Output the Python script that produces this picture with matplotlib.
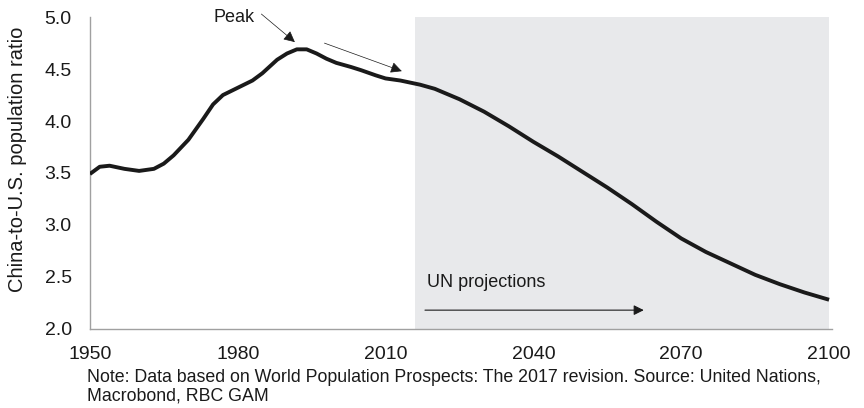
import matplotlib
matplotlib.use('Agg')
import matplotlib.pyplot as plt

plt.rcParams['font.family'] = ['Liberation Sans', 'DejaVu Sans']

# China-to-U.S. population ratio
years = [1950, 1952, 1954, 1957, 1960, 1963, 1965, 1967, 1970, 1973, 1975, 1977,
         1980, 1983, 1985, 1988, 1990, 1992, 1994, 1996, 1998, 2000, 2003, 2005,
         2008, 2010, 2013, 2015, 2017, 2020, 2025, 2030, 2035, 2040, 2045, 2050,
         2055, 2060, 2065, 2070, 2075, 2080, 2085, 2090, 2095, 2100]
ratio = [3.49, 3.56, 3.57, 3.54, 3.52, 3.54, 3.59, 3.67, 3.82, 4.02, 4.16, 4.25,
         4.32, 4.39, 4.46, 4.59, 4.65, 4.69, 4.69, 4.65, 4.60, 4.56, 4.52, 4.49,
         4.44, 4.41, 4.39, 4.37, 4.35, 4.31, 4.21, 4.09, 3.95, 3.80, 3.66, 3.51,
         3.36, 3.20, 3.03, 2.87, 2.74, 2.63, 2.52, 2.43, 2.35, 2.28]

projection_start = 2016
x_ticks = [1950, 1980, 2010, 2040, 2070, 2100]
y_ticks = [2.0, 2.5, 3.0, 3.5, 4.0, 4.5, 5.0]

fig = plt.figure(figsize=(8.64, 4.08), dpi=100)
ax = fig.add_axes([0.104, 0.194, 0.859, 0.764])

# shaded projection period
ax.axvspan(projection_start, 2100, color='#e8e9eb', lw=0, zorder=0)

ax.plot(years, ratio, color='#1a1a1a', lw=2.8, solid_capstyle='butt', zorder=3)

ax.set_xlim(1950, 2100.6)
ax.set_ylim(2.0, 5.0)
ax.set_xticks(x_ticks)
ax.set_yticks(y_ticks)
ax.set_yticklabels([f'{v:.1f}' for v in y_ticks])
ax.tick_params(axis='x', length=0, labelsize=14, colors='#1a1a1a', pad=12)
ax.tick_params(axis='y', length=0, labelsize=14, colors='#1a1a1a', pad=13)

for side in ['top', 'right']:
    ax.spines[side].set_visible(False)
for side in ['left', 'bottom']:
    ax.spines[side].set_color('#a0a0a0')
    ax.spines[side].set_linewidth(1.0)

ax.set_ylabel('China-to-U.S. population ratio', fontsize=14.5, color='#1a1a1a')
ax.yaxis.set_label_coords(-0.085, 0.545)

# annotations
ax.annotate('', xy=(1991.6, 4.76), xytext=(1984.8, 5.03), annotation_clip=False,
            arrowprops=dict(arrowstyle='-|>', color='#1a1a1a', lw=0.5,
                            mutation_scale=17, shrinkA=0, shrinkB=0))
ax.text(1975.0, 5.0, 'Peak', fontsize=13, color='#1a1a1a', va='center', ha='left')
ax.annotate('', xy=(2013.3, 4.48), xytext=(1997.6, 4.75),
            arrowprops=dict(arrowstyle='-|>', color='#1a1a1a', lw=0.5,
                            mutation_scale=17, shrinkA=0, shrinkB=0))

ax.text(2018.5, 2.45, 'UN projections', fontsize=13, color='#1a1a1a', va='center', ha='left')
ax.annotate('', xy=(2062.4, 2.18), xytext=(2018.0, 2.18),
            arrowprops=dict(arrowstyle='-|>', color='#1a1a1a', lw=0.8,
                            mutation_scale=15, shrinkA=0, shrinkB=0))

fig.text(0.101, 0.095, 'Note: Data based on World Population Prospects: The 2017 revision. '
         'Source: United Nations,\nMacrobond, RBC GAM',
         fontsize=12.75, color='#1a1a1a', va='top', ha='left', linespacing=1.1)

fig.savefig('out.png', dpi=100)
